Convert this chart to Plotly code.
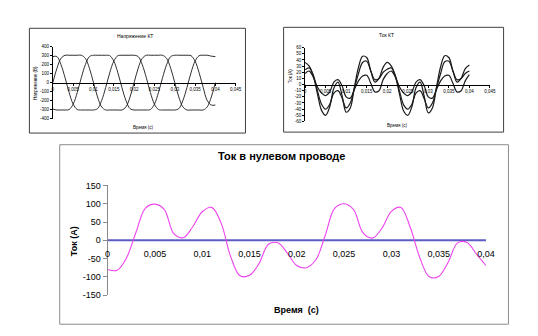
import plotly.graph_objects as go

W, H = 538, 336

# ---------------- data ----------------
t = [0, 0.001, 0.002, 0.003, 0.004, 0.005, 0.006, 0.007, 0.008, 0.009,
     0.010, 0.011, 0.012, 0.013, 0.014, 0.015, 0.016, 0.017, 0.018, 0.019,
     0.020, 0.021, 0.022, 0.023, 0.024, 0.025, 0.026, 0.027, 0.028, 0.029,
     0.030, 0.031, 0.032, 0.033, 0.034, 0.035, 0.036, 0.037, 0.038, 0.039, 0.040]

# Напряжение КТ (three phases)
u_a = [0, 160, 270, 305, 305, 305, 305, 305, 270, 160,
       0, -160, -270, -305, -305, -305, -305, -305, -270, -160,
       0, 160, 270, 305, 305, 305, 305, 305, 270, 160,
       0, -160, -270, -305, -305, -305, -305, -305, -270, -160, 0]
u_b = [-295, -305, -305, -305, -300, -240, -110, 55, 200, 290,
       305, 305, 305, 305, 300, 240, 110, -55, -200, -290,
       -305, -305, -305, -305, -300, -240, -110, 55, 200, 290,
       305, 305, 305, 305, 300, 240, 110, -55, -200, -250, -250]
u_c = [290, 290, 200, 55, -110, -240, -300, -305, -305, -305,
       -305, -290, -200, -55, 110, 240, 300, 305, 305, 305,
       305, 290, 200, 55, -110, -240, -300, -305, -305, -305,
       -305, -290, -200, -55, 110, 240, 300, 305, 305, 295, 290]

# Ток КТ (three currents)
i_a = [36, 30, 14, -15, -42, -50, -36, -6, 4, -18,
       -45, -38, -4, 28, 46, 44, 22, 4, 10, 28,
       36, 30, 13, -16, -43, -50, -36, -5, 4, -19,
       -46, -38, -4, 29, 47, 44, 22, 4, 10, 26, 32]
i_b = [24, 27, 15, -10, -32, -40, -32, -14, -10, -22,
       -38, -30, -6, 18, 36, 38, 22, 8, 10, 20,
       25, 27, 14, -11, -33, -40, -32, -14, -10, -23,
       -38, -30, -6, 18, 37, 38, 22, 8, 10, 18, 22]
i_c = [18, 22, 12, -4, -14, -18, -12, 4, 8, -2,
       -20, -22, -8, 6, 14, 15, 2, -12, -10, 8,
       18, 22, 12, -4, -14, -18, -12, 4, 8, -2,
       -20, -22, -8, 6, 14, 15, 2, -12, -10, 6, 16]

# Ток в нулевом проводе
i_n = [-80, -82, -48, 22, 88, 99, 84, 18, 7, 37,
       78, 90, 47, -44, -97, -96, -64, -11, -7, -35,
       -69, -75, -54, 13, 87, 100, 84, 20, 6, 33,
       79, 90, 35, -47, -100, -99, -60, -7, -6, -38, -69]
zero_line = [0] * len(t)

# tick labels
x_small_vals = [0, 0.005, 0.01, 0.015, 0.02, 0.025, 0.03, 0.035, 0.04, 0.045]
x_small_text = ["0", "0,005", "0,01", "0,015", "0,02", "0,025", "0,03", "0,035", "0,04", "0,045"]
y1_vals = [400, 300, 200, 100, 0, -100, -200, -300, -400]
y1_text = ["400", "300", "200", "100", "0", "-100", "-200", "-300", "-400"]
y2_vals = [60, 50, 40, 30, 20, 10, 0, -10, -20, -30, -40, -50, -60]
y2_text = ["60", "50", "40", "30", "20", "10", "0", "-10", "-20", "-30", "-40", "-50", "-60"]
x3_vals = [0, 0.005, 0.01, 0.015, 0.02, 0.025, 0.03, 0.035, 0.04]
x3_text = ["0", "0,005", "0,01", "0,015", "0,02", "0,025", "0,03", "0,035", "0,04"]
y3_vals = [150, 100, 50, 0, -50, -100, -150]
y3_text = ["150", "100", "50", "0", "-50", "-100", "-150"]

FONT = "Liberation Sans, Arial, sans-serif"


def px(x):
    return x / W


def py(y):
    return 1 - y / H


fig = go.Figure()

# chart 1
for s in (u_a, u_b, u_c):
    fig.add_trace(go.Scatter(x=t, y=s, mode="lines", line=dict(color="#1a1a1a", width=0.9, shape="spline"),
                             xaxis="x", yaxis="y", showlegend=False, hoverinfo="skip"))
# chart 2
for s in (i_a, i_b, i_c):
    fig.add_trace(go.Scatter(x=t, y=s, mode="lines", line=dict(color="#1a1a1a", width=1.2, shape="spline"),
                             xaxis="x2", yaxis="y2", showlegend=False, hoverinfo="skip"))
# chart 3
fig.add_trace(go.Scatter(x=t, y=zero_line, mode="lines", line=dict(color="#5c5cc4", width=2),
                         xaxis="x3", yaxis="y3", showlegend=False, hoverinfo="skip"))
fig.add_trace(go.Scatter(x=t, y=i_n, mode="lines", line=dict(color="#ee44ee", width=1.1, shape="spline"),
                         xaxis="x3", yaxis="y3", showlegend=False, hoverinfo="skip"))

d1x = [px(51), px(238)]
d1y = [py(117), py(43)]
d2x = [px(309), px(498)]
d2y = [py(120), py(44)]
d3x = [px(107), px(494)]
d3y = [py(299), py(186)]

small_tick = dict(family=FONT, size=4.5, color="#000")


def small_x(domain, ydom):
    return dict(domain=domain, range=[0, 0.045], anchor="free", position=(ydom[0] + ydom[1]) / 2,
                showline=True, linecolor="#000", linewidth=1, ticks="outside", ticklen=2, tickcolor="#000",
                tickvals=x_small_vals, ticktext=x_small_text, tickfont=small_tick,
                showgrid=False, zeroline=False)


fig.update_layout(
    width=W, height=H, margin=dict(l=0, r=0, t=0, b=0),
    paper_bgcolor="white", plot_bgcolor="white",
    xaxis=small_x(d1x, d1y),
    yaxis=dict(domain=d1y, range=[-400, 400], anchor="x", showline=True, linecolor="#000", linewidth=1,
               ticks="outside", ticklen=2, tickcolor="#000", tickvals=y1_vals, ticktext=y1_text,
               tickfont=small_tick, showgrid=False, zeroline=False),
    xaxis2=small_x(d2x, d2y),
    yaxis2=dict(domain=d2y, range=[-60, 60], anchor="x2", showline=True, linecolor="#000", linewidth=1,
                ticks="outside", ticklen=2, tickcolor="#000", tickvals=y2_vals, ticktext=y2_text,
                tickfont=small_tick, showgrid=False, zeroline=False),
    xaxis3=dict(domain=d3x, range=[0, 0.04], anchor="free", position=(d3y[0] + d3y[1]) / 2,
                showline=False, ticks="outside", ticklen=5, tickcolor="rgba(0,0,0,0)",
                tickvals=x3_vals, ticktext=x3_text,
                tickfont=dict(family=FONT, size=9, color="#000"), showgrid=False, zeroline=False),
    yaxis3=dict(domain=d3y, range=[-150, 150], anchor="x3", showline=True, linecolor="#8a8a8a", linewidth=1,
                ticks="outside", ticklen=4, tickcolor="#8a8a8a", tickvals=y3_vals, ticktext=y3_text,
                tickfont=dict(family=FONT, size=9, color="#000"), showgrid=False, zeroline=False),
)

# frames
fig.add_shape(type="rect", xref="paper", yref="paper", x0=px(27), x1=px(248), y0=py(132), y1=py(24),
              line=dict(color="#404040", width=1))
fig.add_shape(type="rect", xref="paper", yref="paper", x0=px(287), x1=px(512), y0=py(131), y1=py(23),
              line=dict(color="#404040", width=1))
fig.add_shape(type="rect", xref="paper", yref="paper", x0=px(58), x1=px(517), y0=py(329), y1=py(144),
              line=dict(color="#8c8c8c", width=1))


def ann(text, x, y, size, bold=False, angle=0):
    fig.add_annotation(text=f"<b>{text}</b>" if bold else text, x=px(x), y=py(y), xref="paper", yref="paper",
                       showarrow=False, textangle=angle, xanchor="center", yanchor="middle",
                       font=dict(family=FONT, size=size, color="#000"))


ann("Напряжение КТ", 135, 32, 5)
ann("Напряжение (В)", 33, 80, 4.5, angle=-90)
ann("Время (с)", 144, 126, 4.5)
ann("Ток КТ", 392, 31, 5)
ann("Ток (А)", 294, 73, 4.5, angle=-90)
ann("Время (с)", 403, 124, 4.5)
ann("Ток в нулевом проводе", 285, 156, 11, bold=True)
ann("Ток (А)", 72, 243, 9, bold=True, angle=-90)
ann("Время  (с)", 300, 314, 9, bold=True)

fig.write_html("out.html")
